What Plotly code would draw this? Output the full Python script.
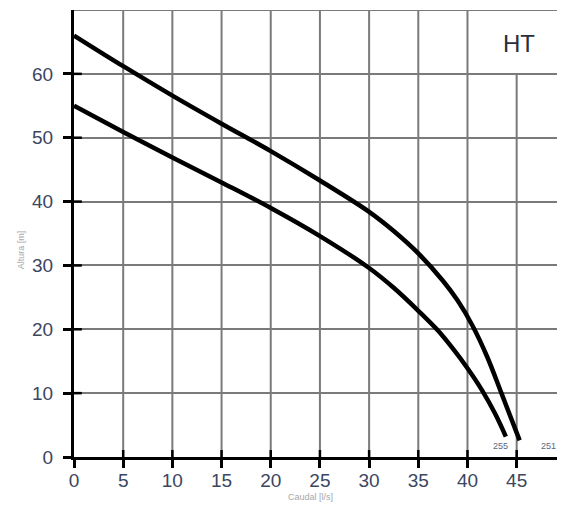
import plotly.graph_objects as go

# pump curves (caudal l/s, altura m)
caudal_251 = [0, 5, 10, 15, 20, 25, 30, 32.5, 35, 37.5, 39, 40.5, 42, 43.5, 45.3]
altura_251 = [66, 61.2, 56.6, 52.2, 47.9, 43.3, 38.4, 35.4, 31.9, 27.6, 24.5, 20.6, 15.7, 9.8, 2.6]

caudal_255 = [0, 5, 10, 15, 20, 25, 30, 32.5, 35, 37, 38.5, 40, 41.5, 42.8, 43.9]
altura_255 = [55, 50.9, 46.9, 43.0, 39.0, 34.6, 29.6, 26.5, 22.9, 19.8, 17.0, 13.9, 10.4, 6.8, 3.2]

x_ticks = [0, 5, 10, 15, 20, 25, 30, 35, 40, 45]
y_ticks = [0, 10, 20, 30, 40, 50, 60]

curve_labels = ['255', '251']
label_x = [43.4, 48.2]
label_y = [1.7, 1.7]

tick_color = '#3b4660'
grid_color = '#7a7a7a'

fig = go.Figure()
fig.add_trace(go.Scatter(x=caudal_251, y=altura_251, mode='lines', name='251',
                         line=dict(color='black', width=4.5, shape='spline', smoothing=1)))
fig.add_trace(go.Scatter(x=caudal_255, y=altura_255, mode='lines', name='255',
                         line=dict(color='black', width=4.5, shape='spline', smoothing=1)))

shapes = []
# vertical grid lines, the one at 45 stops under the HT box
for xv in x_ticks[1:]:
    top = 60 if xv == 45 else 70
    shapes.append(dict(type='line', xref='x', yref='y', x0=xv, x1=xv, y0=0, y1=top,
                       line=dict(color=grid_color, width=2), layer='below'))
# top border
shapes.append(dict(type='line', xref='paper', yref='y', x0=0, x1=1, y0=70, y1=70,
                   line=dict(color=grid_color, width=2), layer='below'))
# inner part of the tick marks
for xv in x_ticks[1:]:
    shapes.append(dict(type='line', xref='x', yref='y', x0=xv, x1=xv, y0=0, y1=1.1,
                       line=dict(color='black', width=2.5)))
for yv in y_ticks[1:]:
    shapes.append(dict(type='line', xref='x', yref='y', x0=0, x1=0.8, y0=yv, y1=yv,
                       line=dict(color='black', width=2.5)))

annotations = [dict(x=45.2, y=64.8, xref='x', yref='y', text='HT', showarrow=False,
                    font=dict(size=24, color='#2a2e3a'))]
for t, lx, ly in zip(curve_labels, label_x, label_y):
    annotations.append(dict(x=lx, y=ly, xref='x', yref='y', text=t, showarrow=False,
                            font=dict(size=9, color='#5b6685')))
annotations.append(dict(x=-0.125, y=0.464, xref='paper', yref='paper', text='Altura [m]',
                        showarrow=False, textangle=-90, font=dict(size=9, color='#a8a8a8')))
annotations.append(dict(x=0.49, y=-0.09, xref='paper', yref='paper', text='Caudal [l/s]',
                        yanchor='middle', showarrow=False, font=dict(size=9, color='#a8a8a8')))

fig.update_layout(
    width=549, height=498,
    margin=dict(l=66, r=0, t=2, b=49),
    plot_bgcolor='white', paper_bgcolor='white',
    showlegend=False,
    font=dict(family='Liberation Sans, Arial, sans-serif'),
    shapes=shapes, annotations=annotations,
)
fig.update_xaxes(range=[0, 49.1], tickvals=x_ticks, showgrid=False, zeroline=False,
                 showline=True, linecolor='black', linewidth=3,
                 ticks='outside', ticklen=8, tickwidth=2.5, tickcolor='black',
                 ticklabelstandoff=-4,
                 tickfont=dict(size=19, color=tick_color))
fig.update_yaxes(range=[0, 70], tickvals=y_ticks, showgrid=True, gridcolor=grid_color,
                 gridwidth=2, zeroline=False,
                 showline=True, linecolor='black', linewidth=3,
                 ticks='outside', ticklen=8, tickwidth=2.5, tickcolor='black',
                 ticklabelstandoff=6,
                 tickfont=dict(size=19, color=tick_color))

fig.write_html("out.html")
